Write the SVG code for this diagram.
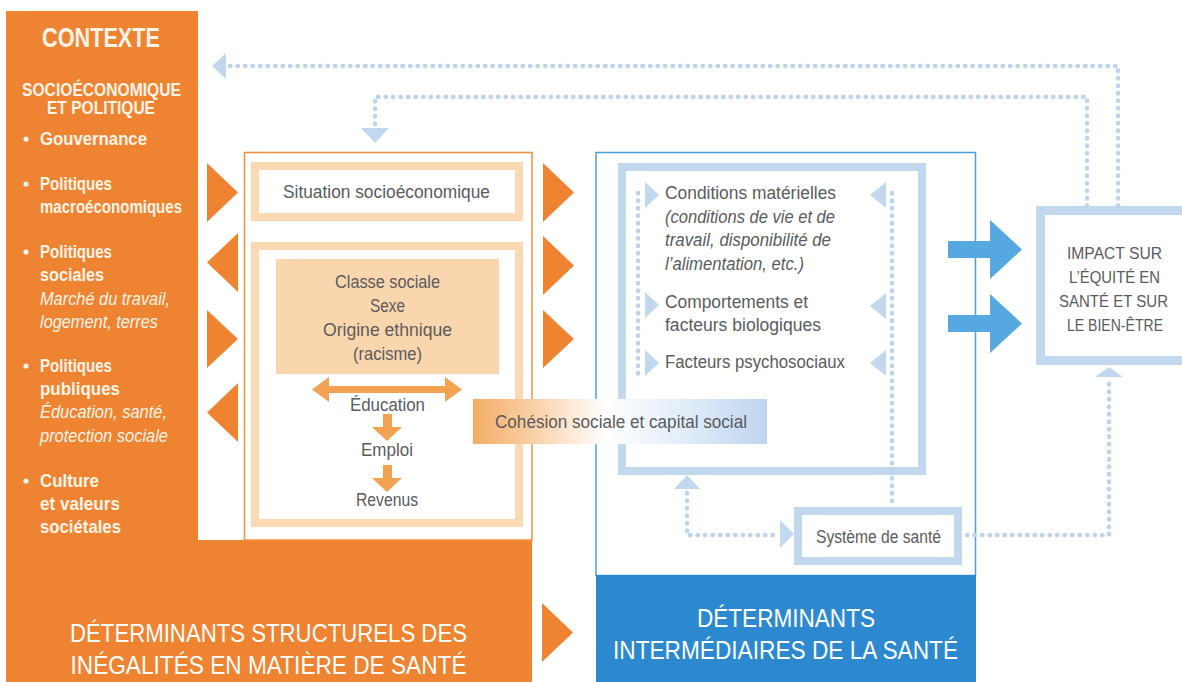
<svg xmlns="http://www.w3.org/2000/svg" width="1182" height="682" viewBox="0 0 1182 682">
<defs>
<style>
text{font-family:"Liberation Sans Narrow","Liberation Sans",Arial,sans-serif;}
.ctx{fill:#FFF4E8;font-size:17.5px;font-weight:bold;}
.ctxi{fill:#FFF4E8;font-size:17.5px;font-style:italic;}
.g{fill:#5A5B5D;font-size:17.5px;}
.gi{fill:#5A5B5D;font-size:17.5px;font-style:italic;}
.c{text-anchor:middle;}
.big{fill:#FFFFFF;font-size:26px;text-anchor:middle;}
.pframe{fill:#FFFFFF;stroke:#FBD9B3;stroke-width:8;}
.bframe{fill:#FFFFFF;stroke:#C2D8EF;stroke-width:8;}
.dot{fill:none;stroke:#BDD4EE;stroke-width:4.5;stroke-dasharray:0.5 7;stroke-linecap:round;}
.tri{fill:#C2D8EF;}
.otri{fill:#EE8432;}
.parr{fill:#F2A250;}
.barr{fill:#56A9E0;}
.imp{fill:#5A5B5D;font-size:16px;text-anchor:middle;}
</style>
<linearGradient id="coh" x1="0" y1="0" x2="1" y2="0">
<stop offset="0" stop-color="#F4AC64"/>
<stop offset="0.2" stop-color="#F9CFA5"/>
<stop offset="0.45" stop-color="#FFFFFF"/>
<stop offset="0.7" stop-color="#E4EEF9"/>
<stop offset="1" stop-color="#BED5EF"/>
</linearGradient>
</defs>

<g id="contexte">
<path d="M6,11 H198 V540 H532 V682 H6 Z" fill="#EE8432"/>
<text class="c" x="101" y="47" textLength="118" lengthAdjust="spacingAndGlyphs" style="fill:#FFF4E8;font-size:27px;font-weight:bold;">CONTEXTE</text>
<text class="ctx c" x="101.5" y="96" textLength="159" lengthAdjust="spacingAndGlyphs">SOCIOÉCONOMIQUE</text>
<text class="ctx c" x="101" y="114" textLength="108" lengthAdjust="spacingAndGlyphs">ET POLITIQUE</text>
<circle cx="26" cy="139" r="2.6" fill="#FFF4E8"/>
<text class="ctx" x="40" y="145" textLength="107" lengthAdjust="spacingAndGlyphs">Gouvernance</text>
<circle cx="26" cy="184" r="2.6" fill="#FFF4E8"/>
<text class="ctx" x="40" y="190" textLength="72" lengthAdjust="spacingAndGlyphs">Politiques</text>
<text class="ctx" x="40" y="213" textLength="142" lengthAdjust="spacingAndGlyphs">macroéconomiques</text>
<circle cx="26" cy="252" r="2.6" fill="#FFF4E8"/>
<text class="ctx" x="40" y="258" textLength="72" lengthAdjust="spacingAndGlyphs">Politiques</text>
<text class="ctx" x="40" y="281" textLength="64" lengthAdjust="spacingAndGlyphs">sociales</text>
<text class="ctxi" x="40" y="305" textLength="130" lengthAdjust="spacingAndGlyphs">Marché du travail,</text>
<text class="ctxi" x="40" y="328" textLength="118" lengthAdjust="spacingAndGlyphs">logement, terres</text>
<circle cx="26" cy="366" r="2.6" fill="#FFF4E8"/>
<text class="ctx" x="40" y="372" textLength="72" lengthAdjust="spacingAndGlyphs">Politiques</text>
<text class="ctx" x="40" y="395" textLength="80" lengthAdjust="spacingAndGlyphs">publiques</text>
<text class="ctxi" x="40" y="418" textLength="127" lengthAdjust="spacingAndGlyphs">Éducation, santé,</text>
<text class="ctxi" x="40" y="442" textLength="128" lengthAdjust="spacingAndGlyphs">protection sociale</text>
<circle cx="26" cy="481" r="2.6" fill="#FFF4E8"/>
<text class="ctx" x="40" y="487" textLength="59" lengthAdjust="spacingAndGlyphs">Culture</text>
<text class="ctx" x="40" y="510" textLength="80" lengthAdjust="spacingAndGlyphs">et valeurs</text>
<text class="ctx" x="40" y="533" textLength="81" lengthAdjust="spacingAndGlyphs">sociétales</text>
<text class="big" x="268.5" y="642" textLength="397" lengthAdjust="spacingAndGlyphs">DÉTERMINANTS STRUCTURELS DES</text>
<text class="big" x="268.5" y="674" textLength="396" lengthAdjust="spacingAndGlyphs">INÉGALITÉS EN MATIÈRE DE SANTÉ</text>
</g>

<g id="structurels">
<rect x="244.5" y="152.5" width="287.5" height="387.5" fill="#FFFFFF" stroke="#F0903F" stroke-width="1.5"/>
</g>

<g id="situation">
<rect class="pframe" x="255" y="166" width="264" height="51"/>
<text class="g c" x="386.5" y="198" textLength="207" lengthAdjust="spacingAndGlyphs">Situation socioéconomique</text>
</g>

<g id="position-sociale">
<rect class="pframe" x="255" y="246" width="264" height="277"/>
<rect x="276" y="259" width="223" height="115" fill="#FAD6AE"/>
<text class="g c" x="387.5" y="288" textLength="105" lengthAdjust="spacingAndGlyphs">Classe sociale</text>
<text class="g c" x="387.5" y="312" textLength="35" lengthAdjust="spacingAndGlyphs">Sexe</text>
<text class="g c" x="387.5" y="336" textLength="129" lengthAdjust="spacingAndGlyphs">Origine ethnique</text>
<text class="g c" x="387.5" y="360" textLength="69" lengthAdjust="spacingAndGlyphs">(racisme)</text>
<path class="parr" d="M312,389.5 L329,377 L329,386 L445,386 L445,377 L462,389.5 L445,402 L445,393 L329,393 L329,402 Z"/>
<text class="g c" x="387.5" y="411" textLength="75" lengthAdjust="spacingAndGlyphs">Éducation</text>
<path class="parr" d="M383,414 H392 V427 H402 L387,441 L372,427 H383 Z"/>
<text class="g c" x="387" y="456" textLength="52" lengthAdjust="spacingAndGlyphs">Emploi</text>
<path class="parr" d="M383,465 H392 V478 H402 L387,492 L372,478 H383 Z"/>
<text class="g c" x="387" y="506" textLength="62" lengthAdjust="spacingAndGlyphs">Revenus</text>
</g>

<g id="intermediaires">
<rect x="596" y="152.5" width="379.5" height="423" fill="#FFFFFF" stroke="#4D9EDC" stroke-width="1.5"/>
<rect x="596" y="575" width="380" height="107" fill="#2C89D0"/>
<text class="big" x="786" y="627" textLength="178" lengthAdjust="spacingAndGlyphs">DÉTERMINANTS</text>
<text class="big" x="785.5" y="659" textLength="345" lengthAdjust="spacingAndGlyphs">INTERMÉDIAIRES DE LA SANTÉ</text>
</g>

<g id="facteurs">
<rect class="bframe" x="622" y="167" width="300" height="304"/>
<text class="g" x="665" y="199" textLength="171" lengthAdjust="spacingAndGlyphs">Conditions matérielles</text>
<text class="gi" x="665" y="223" textLength="170" lengthAdjust="spacingAndGlyphs">(conditions de vie et de</text>
<text class="gi" x="665" y="246" textLength="166" lengthAdjust="spacingAndGlyphs">travail, disponibilité de</text>
<text class="gi" x="665" y="270" textLength="139" lengthAdjust="spacingAndGlyphs">l’alimentation, etc.)</text>
<text class="g" x="665" y="308" textLength="143" lengthAdjust="spacingAndGlyphs">Comportements et</text>
<text class="g" x="665" y="331" textLength="156" lengthAdjust="spacingAndGlyphs">facteurs biologiques</text>
<text class="g" x="665" y="368" textLength="180" lengthAdjust="spacingAndGlyphs">Facteurs psychosociaux</text>
</g>

<g id="systeme-sante">
<rect class="bframe" x="798" y="511" width="160" height="50"/>
<text class="g c" x="878.5" y="543" textLength="125" lengthAdjust="spacingAndGlyphs">Système de santé</text>
</g>

<g id="impact">
<rect x="1036" y="206" width="146" height="159" fill="#FFFFFF"/>
<path d="M1182,210.5 H1040.5 V360.5 H1182" fill="none" stroke="#C2D8EF" stroke-width="9"/>
<text class="imp" x="1114.5" y="259" textLength="95" lengthAdjust="spacingAndGlyphs">IMPACT SUR</text>
<text class="imp" x="1114.5" y="283" textLength="91" lengthAdjust="spacingAndGlyphs">L’ÉQUITÉ EN</text>
<text class="imp" x="1113.5" y="307" textLength="109" lengthAdjust="spacingAndGlyphs">SANTÉ ET SUR</text>
<text class="imp" x="1115" y="331" textLength="96" lengthAdjust="spacingAndGlyphs">LE BIEN-ÊTRE</text>
</g>

<g id="connecteurs">
<polygon class="otri" points="207,163 238,192.5 207,222"/>
<polygon class="otri" points="238,233 207,262.5 238,292"/>
<polygon class="otri" points="207,310 238,339 207,368"/>
<polygon class="otri" points="238,383 207,412.5 238,442"/>
<polygon class="otri" points="543,163 574,192.5 543,222"/>
<polygon class="otri" points="543,236 574,265.5 543,295"/>
<polygon class="otri" points="543,310 574,339 543,368"/>
<polygon class="otri" points="542,603 573,632.5 542,662"/>

<path class="barr" d="M948,241 H990 V220 L1022,249.5 L990,279 V258 H948 Z"/>
<path class="barr" d="M948,315 H990 V294 L1022,323.5 L990,353 V332 H948 Z"/>

<path class="dot" d="M1118,206 V66 H230"/>
<polygon class="tri" points="212,66 226,53 226,79"/>
<path class="dot" d="M1087,206 V97 H375 V126"/>
<polygon class="tri" points="361,128 389,128 375,143"/>

<path class="dot" d="M638,193 V375"/>
<polygon class="tri" points="645,182 659,195 645,208"/>
<polygon class="tri" points="645,292 659,305 645,318"/>
<polygon class="tri" points="645,350 659,363 645,376"/>
<path class="dot" d="M892,193 V505"/>
<polygon class="tri" points="886,182 870,195 886,208"/>
<polygon class="tri" points="886,293 870,306 886,319"/>
<polygon class="tri" points="886,350 870,363 886,376"/>

<path class="dot" d="M687,493 V535 H778"/>
<polygon class="tri" points="674,489 700,489 687,475"/>
<polygon class="tri" points="780,520 794,534 780,548"/>
<path class="dot" d="M967,535 H1109 V381"/>
<polygon class="tri" points="1095,377 1123,377 1109,367"/>
</g>

<g id="cohesion">
<rect x="473" y="399" width="294" height="45" fill="url(#coh)"/>
<text class="g c" x="621" y="428" textLength="252" lengthAdjust="spacingAndGlyphs">Cohésion sociale et capital social</text>
</g>
</svg>
